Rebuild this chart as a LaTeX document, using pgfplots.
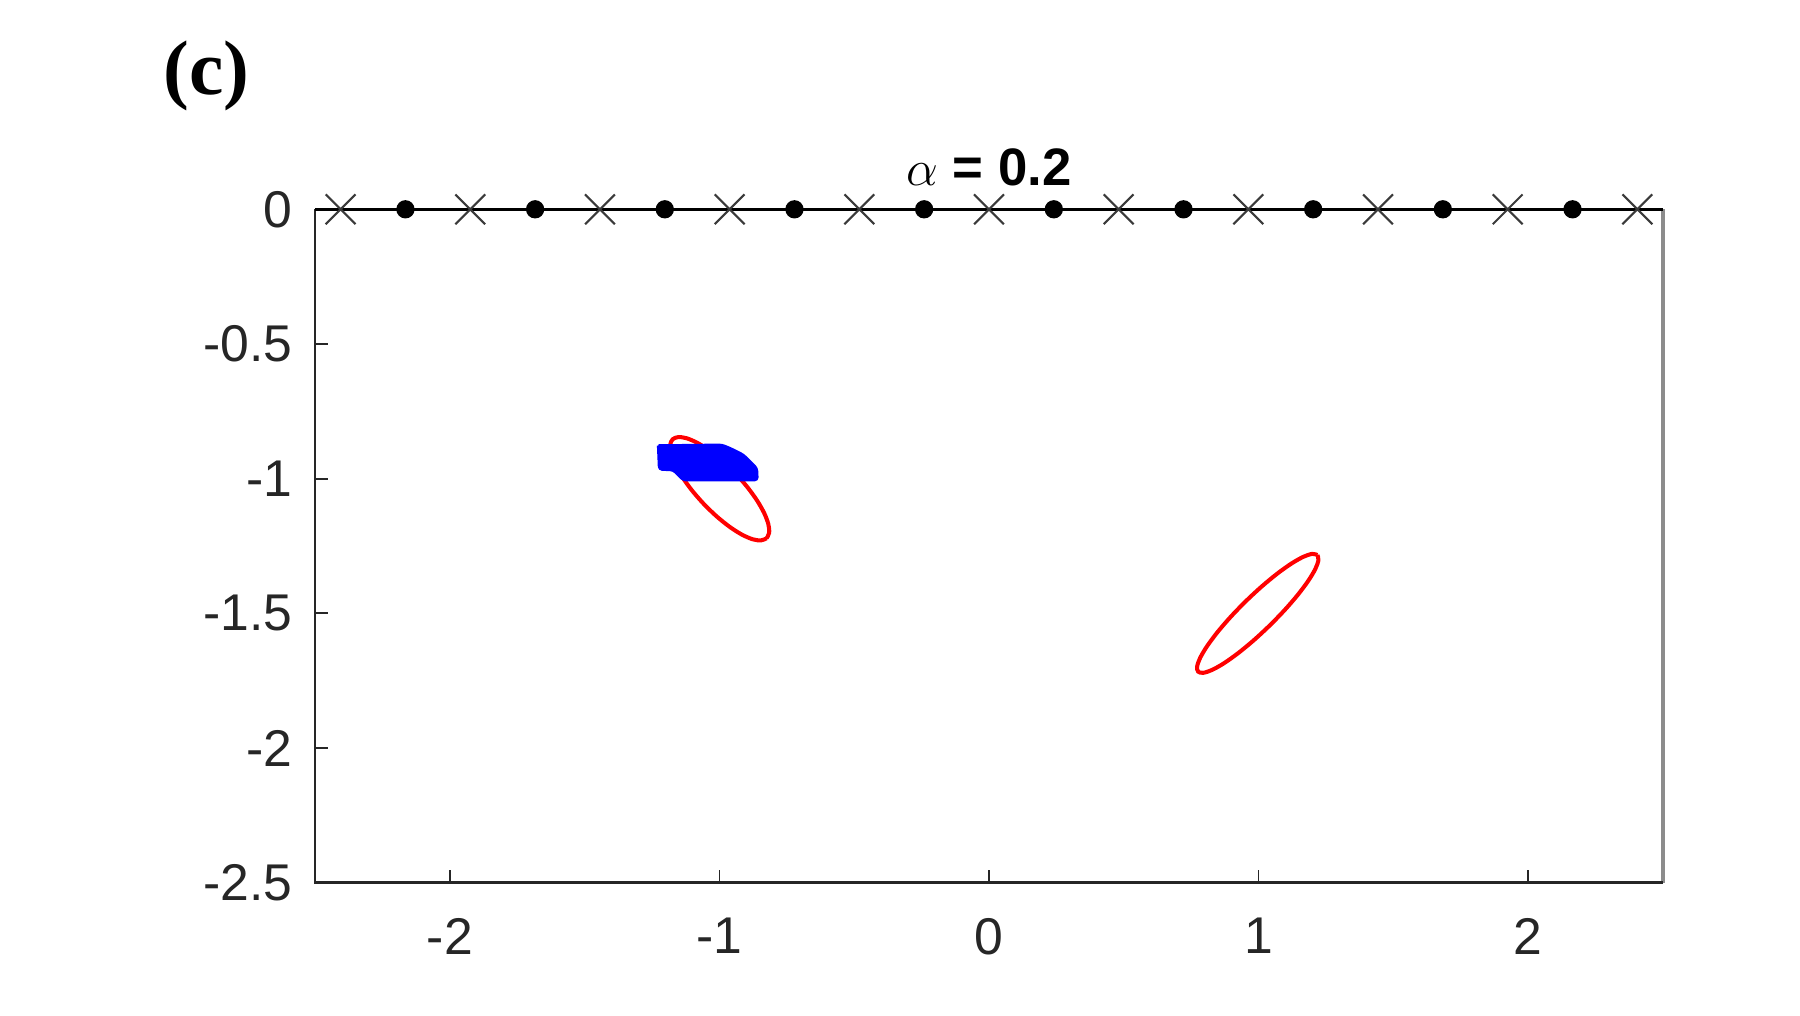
\documentclass[border=0pt]{standalone}
\usepackage{pgfplots}
\pgfplotsset{compat=1.18}
\usepackage{fontspec}
\setmainfont{Liberation Sans}
\newfontfamily\labelfont{Liberation Serif}
\definecolor{axgray}{HTML}{262626}
\definecolor{boxgray}{HTML}{8C8C8C}
\definecolor{markgray}{HTML}{3A3A3A}
\begin{document}
\begin{tikzpicture}
\useasboundingbox (0,0) rectangle (18cm,10.16cm);
\node[anchor=base west, inner sep=0pt, font=\labelfont\bfseries\fontsize{22}{26}\selectfont] at (1.63cm,9.21cm) {(c)};
\begin{axis}[
  at={(3.15cm,1.333cm)}, anchor=south west,
  scale only axis, width=13.48cm, height=6.734cm,
  xmin=-2.5, xmax=2.5, ymin=-2.5, ymax=0,
  clip=false,
  axis line style={draw=none},
  xtick={-2,-1,0,1,2}, xticklabels={-2,-1,0,1,2},
  ytick={-2.5,-2,-1.5,-1,-0.5,0}, yticklabels={-2.5,-2,-1.5,-1,-0.5,0},
  xtick pos=bottom, ytick pos=left, tick align=inside,
  major tick length=0.125cm,
  tick style={axgray, line width=0.5pt},
  tick label style={font=\fontsize{14.7}{17}\selectfont, text=axgray, inner sep=0pt},
  xticklabel style={anchor=north, yshift=-0.35cm},
  yticklabel style={anchor=east, xshift=-0.22cm},
  every axis title shift=0pt,
  title={$\alpha$ = 0.2},
  title style={at={(0.5,1)}, anchor=base, yshift=0.243cm, inner sep=0pt,
    font=\bfseries\fontsize{15}{18}\selectfont},
]
% box lines
\draw[boxgray, line width=0.9pt] (axis cs:2.5,0) -- (axis cs:2.5,-2.5);
\draw[axgray, line width=0.8pt] (axis cs:-2.5,0) -- (axis cs:-2.5,-2.5) -- (axis cs:2.5,-2.5);

% red ellipse near (-1,-1.04)
\addplot[red, line width=1.15pt, smooth, no marks] coordinates {
(-0.8247,-1.2212) (-0.8153,-1.2004) (-0.8185,-1.1685) (-0.8339,-1.1277)
(-0.8605,-1.0808) (-0.8967,-1.0308) (-0.9398,-0.9814) (-0.9869,-0.9358)
(-1.0349,-0.8970) (-1.0803,-0.8679) (-1.1203,-0.8503) (-1.1521,-0.8456)
(-1.1733,-0.8538) (-1.1827,-0.8746) (-1.1795,-0.9065) (-1.1641,-0.9473)
(-1.1375,-0.9942) (-1.1013,-1.0442) (-1.0582,-1.0936) (-1.0111,-1.1392)
(-0.9631,-1.1780) (-0.9177,-1.2071) (-0.8777,-1.2247) (-0.8459,-1.2294)
(-0.8247,-1.2212)};

% red ellipse near (1,-1.5)
\addplot[red, line width=1.15pt, smooth, no marks] coordinates {
(1.2181,-1.2835) (1.1992,-1.2792) (1.1664,-1.2899) (1.1220,-1.3150)
(1.0693,-1.3526) (1.0115,-1.4004) (0.9528,-1.4549) (0.8971,-1.5124)
(0.8481,-1.5692) (0.8094,-1.6212) (0.7834,-1.6649) (0.7720,-1.6974)
(0.7759,-1.7165) (0.7948,-1.7208) (0.8276,-1.7101) (0.8720,-1.6850)
(0.9247,-1.6474) (0.9825,-1.5996) (1.0412,-1.5451) (1.0969,-1.4876)
(1.1459,-1.4308) (1.1846,-1.3788) (1.2106,-1.3351) (1.2220,-1.3026)
(1.2181,-1.2835)};

% blue cloud
\addplot[blue, fill=blue, line width=0.8pt, rounded corners=0.8pt, no marks] coordinates {
(-1.2266,-0.8775) (-0.9915,-0.8749) (-0.9607,-0.8872) (-0.9114,-0.9120)
(-0.8616,-0.9614) (-0.8594,-1.0048) (-1.1339,-1.0048) (-1.1710,-0.9677)
(-1.2229,-0.9651) (-1.2266,-0.8775)};

% top line with nodes
\addplot[black, line width=0.8pt, no marks] coordinates {(-2.5,0) (2.5,0)};
\addplot[only marks, mark=x, mark size=6pt, markgray, mark options={line width=0.6pt}] coordinates {
(-2.405,0) (-1.924,0) (-1.443,0) (-0.962,0) (-0.481,0) (0,0)
(0.481,0) (0.962,0) (1.443,0) (1.924,0) (2.405,0)};
\addplot[only marks, mark=*, mark size=2.4pt, black] coordinates {
(-2.1645,0) (-1.6835,0) (-1.2025,0) (-0.7215,0) (-0.2405,0)
(0.2405,0) (0.7215,0) (1.2025,0) (1.6835,0) (2.1645,0)};
\end{axis}
\end{tikzpicture}
\end{document}
